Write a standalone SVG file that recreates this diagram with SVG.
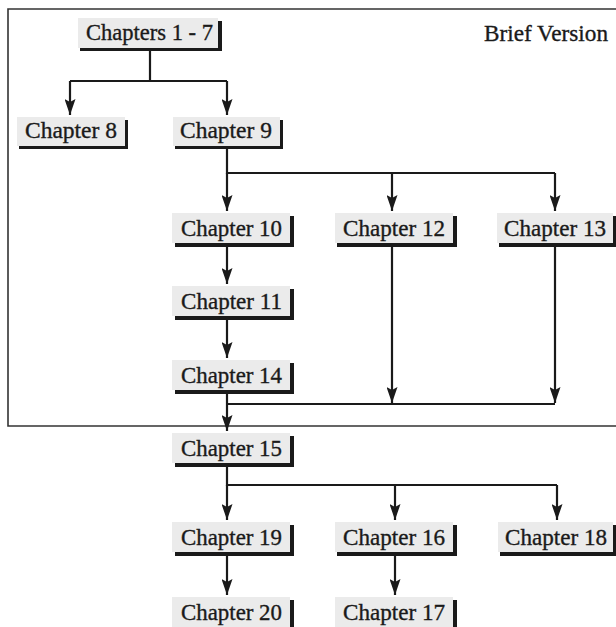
<svg xmlns="http://www.w3.org/2000/svg" width="616" height="627" viewBox="0 0 616 627">
<style>
.sh{fill:#1a1a1a}
.bx{fill:#ebebeb}
.t{font-family:"Liberation Serif","Times New Roman",serif;font-size:23px;fill:#1a1a1a;stroke:#1a1a1a;stroke-width:0.35}
.ln{stroke:#1a1a1a;stroke-width:2.2;fill:none}
.fr{stroke:#333;stroke-width:1.6;fill:none}
</style>
<defs>
<marker id="ah" viewBox="0 0 16 11" refX="16" refY="5.5" markerWidth="16" markerHeight="11" markerUnits="userSpaceOnUse" orient="auto">
<path d="M0,0 L16,5.5 L0,11 L3,5.5 Z" fill="#1a1a1a"/>
</marker>
</defs>
<rect width="616" height="627" fill="#fff"/>
<path class="fr" d="M617,9 H8 V426 H617"/>
<text class="t" x="484" y="41" textLength="124" lengthAdjust="spacingAndGlyphs">Brief Version</text>

<g id="connectors">
<path class="ln" d="M150,51 V81 M70,81 H227"/>
<path class="ln" d="M70,81 V115" marker-end="url(#ah)"/>
<path class="ln" d="M227,81 V115" marker-end="url(#ah)"/>
<path class="ln" d="M227,149 V173 H555"/>
<path class="ln" d="M227,173 V211" marker-end="url(#ah)"/>
<path class="ln" d="M392,173 V211" marker-end="url(#ah)"/>
<path class="ln" d="M555,173 V211" marker-end="url(#ah)"/>
<path class="ln" d="M227,246 V284" marker-end="url(#ah)"/>
<path class="ln" d="M227,319 V358" marker-end="url(#ah)"/>
<path class="ln" d="M392,246 V403" marker-end="url(#ah)"/>
<path class="ln" d="M555,246 V403" marker-end="url(#ah)"/>
<path class="ln" d="M227,404 H555"/>
<path class="ln" d="M227,393 V431" marker-end="url(#ah)"/>
<path class="ln" d="M227,466 V485 H557"/>
<path class="ln" d="M227,485 V520" marker-end="url(#ah)"/>
<path class="ln" d="M395,485 V520" marker-end="url(#ah)"/>
<path class="ln" d="M557,485 V520" marker-end="url(#ah)"/>
<path class="ln" d="M227,555 V595" marker-end="url(#ah)"/>
<path class="ln" d="M395,555 V595" marker-end="url(#ah)"/>
</g>

<g id="ch1-7"><rect class="sh" x="80" y="21" width="142" height="30"/><rect class="bx" x="78" y="18" width="140" height="30"/><text class="t" x="86" y="40" textLength="127" lengthAdjust="spacingAndGlyphs">Chapters 1 - 7</text></g>
<g id="ch8"><rect class="sh" x="19" y="120" width="109" height="29"/><rect class="bx" x="17" y="117" width="108" height="29"/><text class="t" x="25" y="138" textLength="92" lengthAdjust="spacingAndGlyphs">Chapter 8</text></g>
<g id="ch9"><rect class="sh" x="175" y="120" width="108" height="29"/><rect class="bx" x="173" y="117" width="107" height="29"/><text class="t" x="180" y="138" textLength="92" lengthAdjust="spacingAndGlyphs">Chapter 9</text></g>
<g id="ch10"><rect class="sh" x="175" y="216" width="119" height="31"/><rect class="bx" x="172" y="213" width="118" height="30"/><text class="t" x="181" y="236" textLength="101" lengthAdjust="spacingAndGlyphs">Chapter 10</text></g>
<g id="ch12"><rect class="sh" x="337" y="216" width="120" height="31"/><rect class="bx" x="335" y="213" width="118" height="30"/><text class="t" x="343" y="236" textLength="102" lengthAdjust="spacingAndGlyphs">Chapter 12</text></g>
<g id="ch13"><rect class="sh" x="499" y="216" width="120" height="31"/><rect class="bx" x="497" y="213" width="116" height="30"/><text class="t" x="504" y="236" textLength="102" lengthAdjust="spacingAndGlyphs">Chapter 13</text></g>
<g id="ch11"><rect class="sh" x="175" y="289" width="119" height="31"/><rect class="bx" x="172" y="286" width="118" height="30"/><text class="t" x="181" y="309" textLength="101" lengthAdjust="spacingAndGlyphs">Chapter 11</text></g>
<g id="ch14"><rect class="sh" x="175" y="363" width="119" height="31"/><rect class="bx" x="172" y="360" width="118" height="30"/><text class="t" x="181" y="383" textLength="101" lengthAdjust="spacingAndGlyphs">Chapter 14</text></g>
<g id="ch15"><rect class="sh" x="175" y="436" width="119" height="31"/><rect class="bx" x="172" y="433" width="118" height="30"/><text class="t" x="181" y="456" textLength="101" lengthAdjust="spacingAndGlyphs">Chapter 15</text></g>
<g id="ch19"><rect class="sh" x="175" y="525" width="119" height="31"/><rect class="bx" x="172" y="522" width="118" height="30"/><text class="t" x="181" y="545" textLength="101" lengthAdjust="spacingAndGlyphs">Chapter 19</text></g>
<g id="ch16"><rect class="sh" x="337" y="525" width="120" height="31"/><rect class="bx" x="335" y="522" width="118" height="30"/><text class="t" x="343" y="545" textLength="102" lengthAdjust="spacingAndGlyphs">Chapter 16</text></g>
<g id="ch18"><rect class="sh" x="500" y="525" width="120" height="31"/><rect class="bx" x="498" y="522" width="115" height="30"/><text class="t" x="505" y="545" textLength="102" lengthAdjust="spacingAndGlyphs">Chapter 18</text></g>
<g id="ch20"><rect class="sh" x="175" y="600" width="119" height="31"/><rect class="bx" x="172" y="597" width="118" height="30"/><text class="t" x="181" y="620" textLength="101" lengthAdjust="spacingAndGlyphs">Chapter 20</text></g>
<g id="ch17"><rect class="sh" x="337" y="600" width="120" height="31"/><rect class="bx" x="335" y="597" width="118" height="30"/><text class="t" x="343" y="620" textLength="102" lengthAdjust="spacingAndGlyphs">Chapter 17</text></g>
</svg>
